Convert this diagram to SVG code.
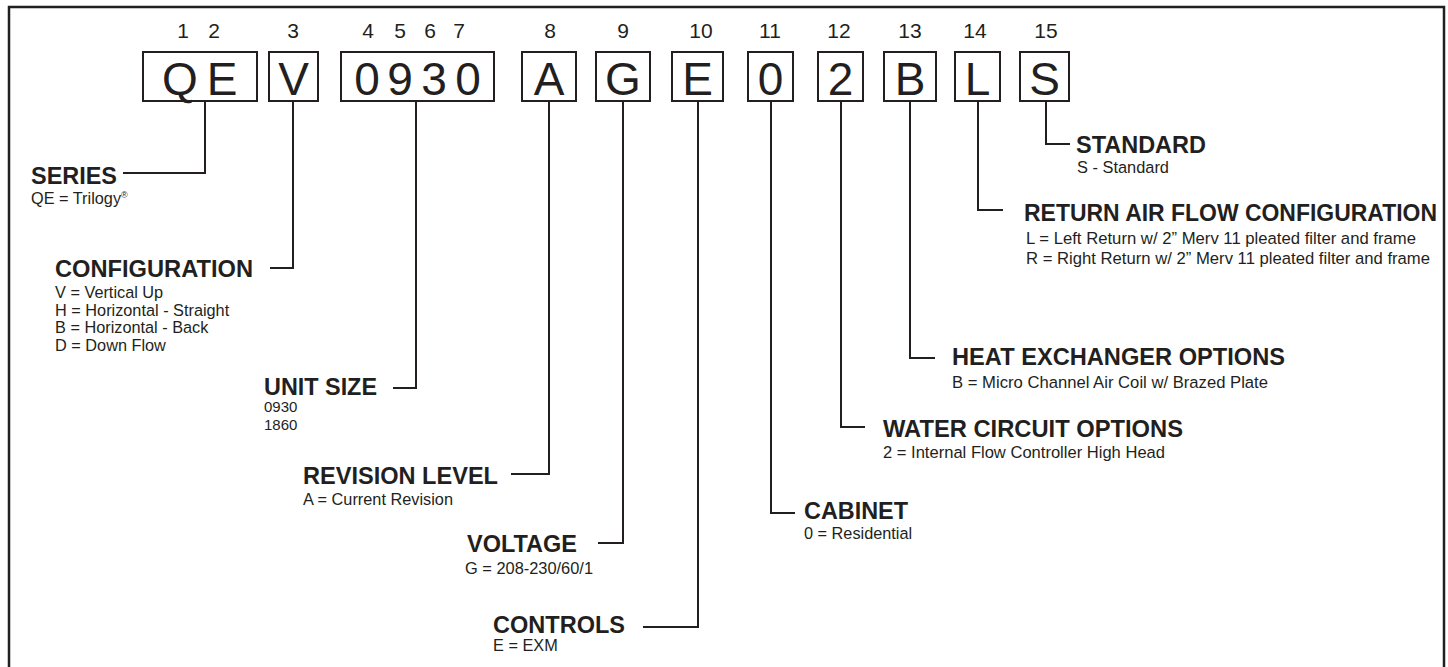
<svg xmlns="http://www.w3.org/2000/svg" width="1448" height="667" viewBox="0 0 1448 667">
<style>
.frame{fill:none;stroke:#231f20;stroke-width:2.5}
.box{fill:#fff;stroke:#231f20;stroke-width:2}
.big{font-family:"Liberation Sans",Arial,sans-serif;font-size:46px;fill:#231f20;text-anchor:middle}
.num{font-family:"Liberation Sans",Arial,sans-serif;font-size:21px;fill:#231f20;text-anchor:middle}
.title{font-family:"Liberation Sans",Arial,sans-serif;font-size:23.5px;font-weight:bold;fill:#231f20}
.sub{font-family:"Liberation Sans",Arial,sans-serif;font-size:16.3px;fill:#231f20}
.small{font-family:"Liberation Sans",Arial,sans-serif;font-size:15px;fill:#231f20}
.conn path{fill:none;stroke:#231f20;stroke-width:2}
</style>
<rect class="frame" x="9" y="7" width="1435" height="720"/>

<g id="positions">
<text class="num" x="183 214" y="38">12</text>
<text class="num" x="293" y="38">3</text>
<text class="num" x="368 400 430 459" y="38">4567</text>
<text class="num" x="550" y="38">8</text>
<text class="num" x="623" y="38">9</text>
<text class="num" x="701" y="38">10</text>
<text class="num" x="770" y="38">11</text>
<text class="num" x="839" y="38">12</text>
<text class="num" x="910" y="38">13</text>
<text class="num" x="975" y="38">14</text>
<text class="num" x="1046" y="38">15</text>
</g>

<g id="box-qe"><rect class="box" x="143" y="52" width="114" height="49"/><text class="big" x="180 222" y="95">QE</text></g>
<g id="box-v"><rect class="box" x="269" y="52" width="49" height="49"/><text class="big" x="293.5" y="95">V</text></g>
<g id="box-0930"><rect class="box" x="341" y="52" width="153" height="49"/><text class="big" x="367 400 434 468" y="95">0930</text></g>
<g id="box-a"><rect class="box" x="522" y="52" width="54" height="49"/><text class="big" x="549" y="95">A</text></g>
<g id="box-g"><rect class="box" x="596" y="52" width="54" height="49"/><text class="big" x="623" y="95">G</text></g>
<g id="box-e"><rect class="box" x="672" y="52" width="51" height="49"/><text class="big" x="697.5" y="95">E</text></g>
<g id="box-0"><rect class="box" x="748" y="52" width="45" height="49"/><text class="big" x="770.5" y="95">0</text></g>
<g id="box-2"><rect class="box" x="818" y="52" width="45" height="49"/><text class="big" x="840.5" y="95">2</text></g>
<g id="box-b"><rect class="box" x="884" y="52" width="52" height="49"/><text class="big" x="910" y="95">B</text></g>
<g id="box-l"><rect class="box" x="955" y="52" width="45" height="49"/><text class="big" x="977.5" y="95">L</text></g>
<g id="box-s"><rect class="box" x="1020" y="52" width="49" height="49"/><text class="big" x="1044.5" y="95">S</text></g>

<g class="conn" id="connectors">
<path d="M205,101 V173 H123"/>
<path d="M293,101 V268 H270"/>
<path d="M416,101 V388 H393"/>
<path d="M549,101 V474 H511"/>
<path d="M623,101 V543 H598"/>
<path d="M698,101 V627 H643"/>
<path d="M771,101 V513 H795"/>
<path d="M841,101 V427 H865"/>
<path d="M910,101 V358 H935"/>
<path d="M978,101 V210 H1003"/>
<path d="M1046,101 V144 H1070"/>
</g>

<g id="series">
<text class="title" x="31" y="184" textLength="86" lengthAdjust="spacingAndGlyphs">SERIES</text>
<text class="sub" x="31" y="204">QE = Trilogy<tspan font-size="9" dy="-6">®</tspan></text>
</g>
<g id="configuration">
<text class="title" x="55" y="277" textLength="198" lengthAdjust="spacingAndGlyphs">CONFIGURATION</text>
<text class="sub" x="55" y="298">V = Vertical Up</text>
<text class="sub" x="55" y="316">H = Horizontal - Straight</text>
<text class="sub" x="55" y="333">B = Horizontal - Back</text>
<text class="sub" x="55" y="351">D = Down Flow</text>
</g>
<g id="unit-size">
<text class="title" x="264" y="395" textLength="113" lengthAdjust="spacingAndGlyphs">UNIT SIZE</text>
<text class="small" x="264" y="412">0930</text>
<text class="small" x="264" y="430">1860</text>
</g>
<g id="revision-level">
<text class="title" x="303" y="484" textLength="195" lengthAdjust="spacingAndGlyphs">REVISION LEVEL</text>
<text class="sub" x="303" y="505" textLength="150" lengthAdjust="spacingAndGlyphs">A = Current Revision</text>
</g>
<g id="voltage">
<text class="title" x="467" y="552" textLength="110" lengthAdjust="spacingAndGlyphs">VOLTAGE</text>
<text class="sub" x="465" y="574" textLength="128" lengthAdjust="spacingAndGlyphs">G = 208-230/60/1</text>
</g>
<g id="controls">
<text class="title" x="493" y="633" textLength="132" lengthAdjust="spacingAndGlyphs">CONTROLS</text>
<text class="sub" x="493" y="651">E = EXM</text>
</g>
<g id="cabinet">
<text class="title" x="804" y="519" textLength="104" lengthAdjust="spacingAndGlyphs">CABINET</text>
<text class="sub" x="804" y="539">0 = Residential</text>
</g>
<g id="water-circuit">
<text class="title" x="883" y="437" textLength="300" lengthAdjust="spacingAndGlyphs">WATER CIRCUIT OPTIONS</text>
<text class="sub" x="883" y="458" textLength="282" lengthAdjust="spacingAndGlyphs">2 = Internal Flow Controller High Head</text>
</g>
<g id="heat-exchanger">
<text class="title" x="952" y="365" textLength="333" lengthAdjust="spacingAndGlyphs">HEAT EXCHANGER OPTIONS</text>
<text class="sub" x="952" y="388" textLength="316" lengthAdjust="spacingAndGlyphs">B = Micro Channel Air Coil w/ Brazed Plate</text>
</g>
<g id="return-air">
<text class="title" x="1024" y="221" textLength="413" lengthAdjust="spacingAndGlyphs">RETURN AIR FLOW CONFIGURATION</text>
<text class="sub" x="1026" y="244" textLength="390" lengthAdjust="spacingAndGlyphs">L = Left Return w/ 2” Merv 11 pleated filter and frame</text>
<text class="sub" x="1026" y="264" textLength="404" lengthAdjust="spacingAndGlyphs">R = Right Return w/ 2” Merv 11 pleated filter and frame</text>
</g>
<g id="standard">
<text class="title" x="1076" y="153" textLength="130" lengthAdjust="spacingAndGlyphs">STANDARD</text>
<text class="sub" x="1077" y="173" textLength="92" lengthAdjust="spacingAndGlyphs">S - Standard</text>
</g>
</svg>
